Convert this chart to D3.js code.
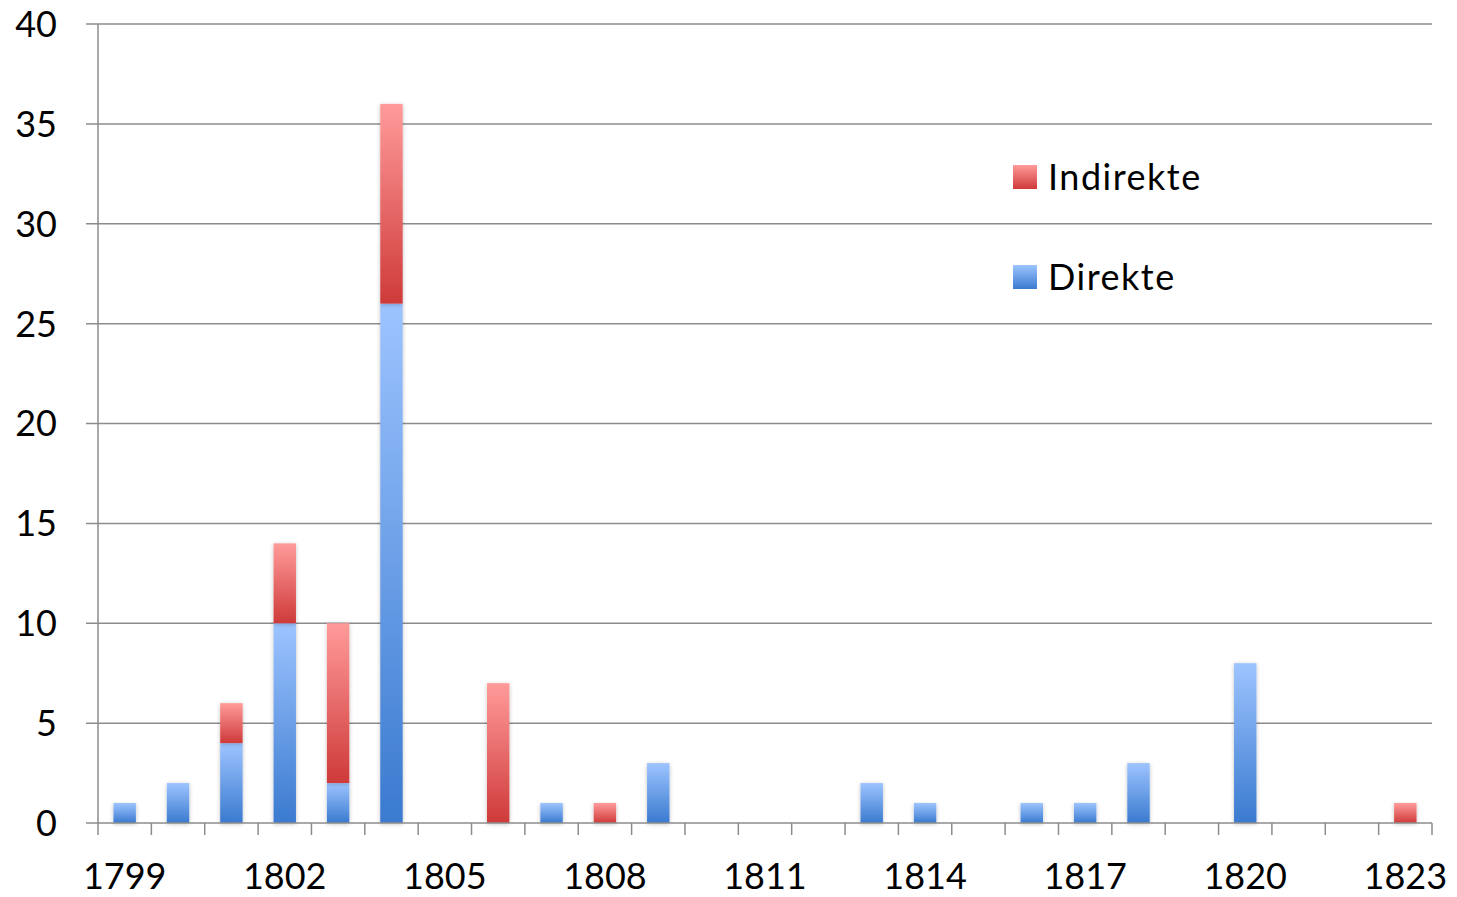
<!DOCTYPE html>
<html><head><meta charset="utf-8">
<script src="https://cdn.jsdelivr.net/npm/d3@7"></script>
<style>body{margin:0;background:#fff}svg{display:block}</style>
</head><body>
<script>
const years = d3.range(1799, 1824).map(String);
const direkte   = [1,2,4,10,2,26,0,0,1,0,3,0,0,0,2,1,0,1,1,3,0,8,0,0,0];
const indirekte = [0,0,2,4,8,10,0,7,0,1,0,0,0,0,0,0,0,0,0,0,0,0,0,0,1];
const yTicks = [0,5,10,15,20,25,30,35,40];
const xLabels = ["1799","1802","1805","1808","1811","1814","1817","1820","1823"];
const seriesNames = ["Indirekte","Direkte"];

const W = 1457, H = 897;
const m = {left:98, right:25, top:24, bottom:74};
const svg = d3.select("body").append("svg").attr("width",W).attr("height",H);
const defs = svg.append("defs");
function grad(id, c1, c2){
  const g = defs.append("linearGradient").attr("id",id).attr("x1",0).attr("y1",0).attr("x2",0).attr("y2",1);
  g.append("stop").attr("offset","0%").attr("stop-color",c1);
  g.append("stop").attr("offset","100%").attr("stop-color",c2);
}
grad("gBlue","#9dc4ff","#3a7acf");
grad("gRed","#ff9b9a","#cf3a3a");
const f = defs.append("filter").attr("id","sh").attr("x","-50%").attr("y","-10%").attr("width","200%").attr("height","130%");
f.append("feGaussianBlur").attr("in","SourceAlpha").attr("stdDeviation",2).attr("result","b");
f.append("feOffset").attr("in","b").attr("dx",0).attr("dy",1).attr("result","o");
f.append("feComponentTransfer").attr("in","o").attr("result","o2").append("feFuncA").attr("type","linear").attr("slope",0.25);
const mg = f.append("feMerge"); mg.append("feMergeNode").attr("in","o2"); mg.append("feMergeNode").attr("in","SourceGraphic");

const x = d3.scaleBand().domain(years).range([m.left, W-m.right]).paddingInner(0).paddingOuter(0);
const y = d3.scaleLinear().domain([0,40]).range([H-m.bottom, m.top]);
const font = "Lato, 'Open Sans', sans-serif";

// grid
svg.append("g").selectAll("line").data(yTicks.filter(d=>d>0)).join("line")
  .attr("x1",m.left-12).attr("x2",W-m.right).attr("y1",d=>y(d)).attr("y2",d=>y(d))
  .attr("stroke","#8c8c8c").attr("stroke-width",1.5);
// y tick labels
svg.append("g").selectAll("text").data(yTicks).join("text")
  .attr("x",57).attr("y",d=>y(d)).attr("dy","0.36em").attr("text-anchor","end")
  .attr("font-family",font).attr("font-size",36).attr("fill","#000").text(d=>d);
// y axis
svg.append("line").attr("x1",m.left).attr("x2",m.left).attr("y1",y(40)).attr("y2",y(0))
  .attr("stroke","#8c8c8c").attr("stroke-width",1.5);
svg.append("line").attr("x1",m.left-12).attr("x2",m.left).attr("y1",y(0)).attr("y2",y(0))
  .attr("stroke","#8c8c8c").attr("stroke-width",1.5);

// bars
const bw = x.bandwidth()*0.42;
const bars = svg.append("g");
years.forEach((yr,i)=>{
  const cx = x(yr)+x.bandwidth()/2;
  if (direkte[i]>0) bars.append("rect").attr("x",cx-bw/2).attr("width",bw)
    .attr("y",y(direkte[i])).attr("height",y(0)-y(direkte[i])).attr("fill","url(#gBlue)").attr("filter","url(#sh)");
  if (indirekte[i]>0) bars.append("rect").attr("x",cx-bw/2).attr("width",bw)
    .attr("y",y(direkte[i]+indirekte[i])).attr("height",y(direkte[i])-y(direkte[i]+indirekte[i])).attr("fill","url(#gRed)").attr("filter","url(#sh)");
});

// x axis
svg.append("line").attr("x1",m.left).attr("x2",W-m.right).attr("y1",y(0)).attr("y2",y(0))
  .attr("stroke","#8c8c8c").attr("stroke-width",1.5);
const bounds = years.map(d=>x(d)).concat([W-m.right]);
svg.append("g").selectAll("line").data(bounds).join("line")
  .attr("x1",d=>d).attr("x2",d=>d).attr("y1",y(0)).attr("y2",y(0)+12)
  .attr("stroke","#8c8c8c").attr("stroke-width",1.5);
svg.append("g").selectAll("text").data(xLabels).join("text")
  .attr("x",d=>x(d)+x.bandwidth()/2).attr("y",889).attr("text-anchor","middle")
  .attr("font-family",font).attr("font-size",36).attr("fill","#000").text(d=>d);

// legend
const lg = svg.append("g");
seriesNames.forEach((n,i)=>{
  const ly = 165 + i*100;
  lg.append("rect").attr("x",1013).attr("y",ly).attr("width",24).attr("height",24)
    .attr("fill", i===0 ? "url(#gRed)" : "url(#gBlue)");
  lg.append("text").attr("x",1048).attr("y",ly+12).attr("dy","0.36em")
    .attr("font-family",font).attr("font-size",36).attr("letter-spacing",1.5).attr("fill","#000").text(n);
});
</script>
</body></html>
